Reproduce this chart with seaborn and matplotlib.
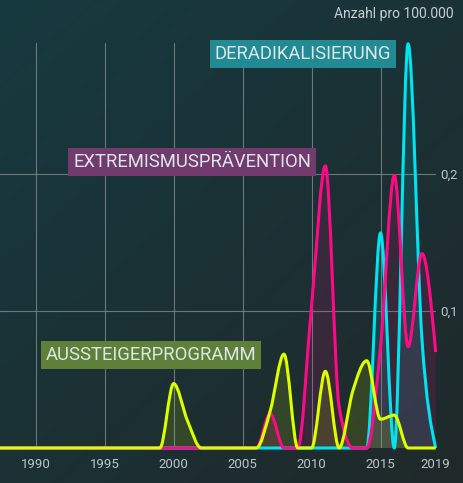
import numpy as np
import pandas as pd
import seaborn as sns
import matplotlib.pyplot as plt
from matplotlib.path import Path
from matplotlib.patches import PathPatch

sns.set_theme(style="dark")
plt.rcParams["font.family"] = ["Roboto", "DejaVu Sans"]

# -----------------------------
# Data (Anzahl pro 100.000)
# -----------------------------
years = list(range(1987, 2020))
deradikalisierung = [0] * 28 + [0.157, 0.0, 0.295, 0.080, 0.0]          # 2015..2019
extremismuspraevention = ([0] * 20 + [0.025, 0.0, 0.0, 0.104, 0.206, 0.030, 0.0, 0.0,
                                      0.074, 0.199, 0.074, 0.142, 0.070])  # 2007..2019
aussteigerprogramm = ([0] * 13 + [0.047, 0.020] + [0] * 5 +
                      [0.027, 0.0685, 0.0, 0.0, 0.056, 0.0, 0.042, 0.0637,
                       0.021, 0.024, 0.0, 0.0, 0.0])                      # 2000..2019

series = ["DERADIKALISIERUNG", "EXTREMISMUSPRÄVENTION", "AUSSTEIGERPROGRAMM"]
values = [deradikalisierung, extremismuspraevention, aussteigerprogramm]
line_colors = ["#00e4f0", "#ff0a86", "#dcff00"]
box_colors = ["#228a92", "#713c6d", "#5f8038"]

df = pd.DataFrame({"jahr": years, **dict(zip(series, values))})

xticks = [1990, 1995, 2000, 2005, 2010, 2015, 2019]
yticks = [0.1, 0.2]
ytick_labels = ["0,1", "0,2"]


def monotone_path(x, y, close=False):
    """Cubic Bezier path through the points with monotone (d3 monotoneX) tangents."""
    x = np.asarray(x, float)
    y = np.asarray(y, float)
    h = np.diff(x)
    s = np.diff(y) / h
    t = np.zeros(len(x))
    for i in range(1, len(x) - 1):
        p = (s[i - 1] * h[i] + s[i] * h[i - 1]) / (h[i - 1] + h[i])
        t[i] = (np.sign(s[i - 1]) + np.sign(s[i])) * min(abs(s[i - 1]), abs(s[i]), 0.5 * abs(p))
    t[0] = (3 * s[0] - t[1]) / 2
    t[-1] = (3 * s[-1] - t[-2]) / 2
    verts = [(x[0], y[0])]
    codes = [Path.MOVETO]
    for i in range(len(x) - 1):
        d = h[i] / 3
        verts += [(x[i] + d, y[i] + d * t[i]), (x[i + 1] - d, y[i + 1] - d * t[i + 1]), (x[i + 1], y[i + 1])]
        codes += [Path.CURVE4] * 3
    if close:
        verts += [(x[-1], 0), (x[0], 0), (x[0], 0)]
        codes += [Path.LINETO, Path.LINETO, Path.CLOSEPOLY]
    return Path(verts, codes)


W, H = 464, 483
fig = plt.figure(figsize=(W / 100, H / 100), dpi=100)

# background gradient (diagonal, teal to dark)
bg = fig.add_axes([0, 0, 1, 1], zorder=-5)
gx, gy = np.meshgrid(np.linspace(0, 1, 200), np.linspace(0, 1, 200))
g = np.clip((gx * 0.6 + gy * 0.7) / 1.3, 0, 1)[..., None]
c1 = np.array([0x16, 0x3a, 0x40]) / 255
c2 = np.array([0x20, 0x29, 0x2a]) / 255
bg.imshow(c1 * (1 - g) + c2 * g, aspect="auto", extent=[0, 1, 0, 1], origin="upper")
bg.set_axis_off()

ax = fig.add_axes([0, 1 - 448 / H, 435.7 / W, (448 - 43.3) / H])
ax.set_facecolor("none")
ax.set_xlim(1987.41, 2019)
ax.set_ylim(0, 0.2954)

for i, (name, col) in enumerate(zip(series, line_colors)):
    fill = PathPatch(monotone_path(df["jahr"], df[name], close=True),
                     facecolor=col, alpha=0.12, edgecolor="none", zorder=2)
    ax.add_patch(fill)
for i, (name, col) in enumerate(zip(series, line_colors)):
    line = PathPatch(monotone_path(df["jahr"], df[name]), facecolor="none",
                     edgecolor=col, lw=2.2, zorder=3 + i, clip_on=False,
                     capstyle="butt", joinstyle="round")
    ax.add_patch(line)

ax.set_xticks(xticks)
ax.set_xticklabels([str(v) for v in xticks])
ax.set_yticks(yticks)
ax.set_yticklabels(ytick_labels)
ax.yaxis.tick_right()
ax.tick_params(axis="both", length=0, colors="#b9c6ca", labelsize=9.5)
ax.tick_params(axis="x", pad=7)
ax.tick_params(axis="y", pad=3)
ax.grid(True, color="#7d8c8e", lw=0.8, alpha=0.8)
ax.xaxis.get_gridlines()[-1].set_visible(False)
sns.despine(ax=ax, left=True, bottom=True)

fig.text(454 / W, 1 - 14 / H, "Anzahl pro 100.000", ha="right", va="center",
         color="#c4ced4", fontsize=10)

# series labels
label_pos = [(303, 54), (192, 162), (151, 355)]
for name, bc, (px, py) in zip(series, box_colors, label_pos):
    fig.text(px / W, 1 - py / H, name, ha="center", va="center", color="#dce6e8",
             fontsize=13.3, bbox=dict(boxstyle="square,pad=0.27", fc=bc, ec="none"))

fig.savefig("out.png", dpi=100)
